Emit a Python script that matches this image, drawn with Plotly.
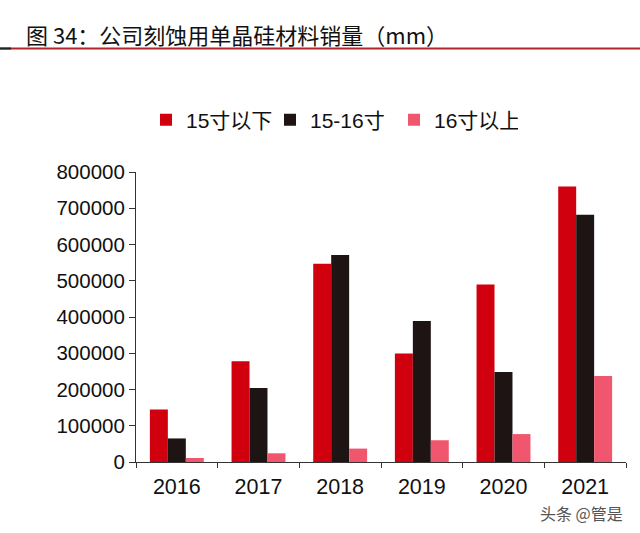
import plotly.graph_objects as go

years = ["2016", "2017", "2018", "2019", "2020", "2021"]
below15 = [145000, 278000, 547000, 299000, 490000, 760000]
mid15_16 = [65000, 204000, 571000, 389000, 248000, 682000]
above16 = [11000, 24000, 37000, 60000, 77000, 237000]
series_names = ["15寸以下", "15-16寸", "16寸以上"]
colors = ["#D0000F", "#1E1414", "#F0566E"]
y_ticks = [0, 100000, 200000, 300000, 400000, 500000, 600000, 700000, 800000]

FONT = "Arial, 'Liberation Sans', 'Noto Sans CJK SC', sans-serif"

fig = go.Figure()
for name, vals, c in zip(series_names, [below15, mid15_16, above16], colors):
    fig.add_trace(go.Bar(x=years, y=vals, name=name, marker=dict(color=c, line=dict(width=0))))

W, H = 640, 533
L, R, T, B = 136, 14, 172, 71
PW, PH = W - L - R, H - T - B


def px_x(x):
    return (x - L) / PW


def px_y(y):
    return 1 + (T - y) / PH


fig.update_layout(
    width=W, height=H,
    margin=dict(l=L, r=R, t=T, b=B, autoexpand=False),
    paper_bgcolor="white", plot_bgcolor="white",
    barmode="group", bargap=0.34, bargroupgap=0,
    font=dict(family=FONT, color="#111111", size=20),
    showlegend=True,
    legend=dict(orientation="h", xref="container", x=146 / W, xanchor="left",
                yref="container", y=1 - 120 / H, yanchor="middle",
                font=dict(size=21, family=FONT, color="#111"),
                itemwidth=30, entrywidth=79, entrywidthmode="pixels",
                bgcolor="rgba(0,0,0,0)"),
    xaxis=dict(type="category", showline=True, linecolor="#333", linewidth=1,
               ticks="outside", ticklen=5, tickcolor="#333", tickson="boundaries",
               ticklabelstandoff=5,
               tickfont=dict(size=21.5, family=FONT, color="#111"), showgrid=False),
    yaxis=dict(range=[0, 800000], tickvals=y_ticks, ticktext=[str(v) for v in y_ticks],
               showline=True, linecolor="#333", linewidth=1, ticks="outside", ticklen=6,
               tickcolor="#333", showgrid=False, zeroline=False,
               tickfont=dict(size=20.5, family=FONT, color="#111")),
)

fig.add_annotation(text="图 34：公司刻蚀用单晶硅材料销量（mm）", xref="paper", yref="paper",
                   x=px_x(24), y=px_y(34), xanchor="left", yanchor="middle",
                   showarrow=False, font=dict(size=22, family="'Noto Sans CJK SC', " + FONT, color="#111"))
fig.add_shape(type="line", xref="paper", yref="paper", x0=px_x(0), x1=px_x(W),
              y0=px_y(48.5), y1=px_y(48.5), line=dict(color="#B2242A", width=2))
fig.add_shape(type="line", xref="paper", yref="paper", x0=px_x(0), x1=px_x(11),
              y0=px_y(48.5), y1=px_y(48.5), line=dict(color="#222", width=2))
fig.add_annotation(text="头条 @管是", xref="paper", yref="paper",
                   x=px_x(625), y=px_y(513), xanchor="right", yanchor="middle",
                   showarrow=False, font=dict(size=16, family="'Noto Sans CJK SC'", color="#555"))

fig.write_html("out.html", config={"displayModeBar": False},
               post_script="document.body.style.margin='0';")
